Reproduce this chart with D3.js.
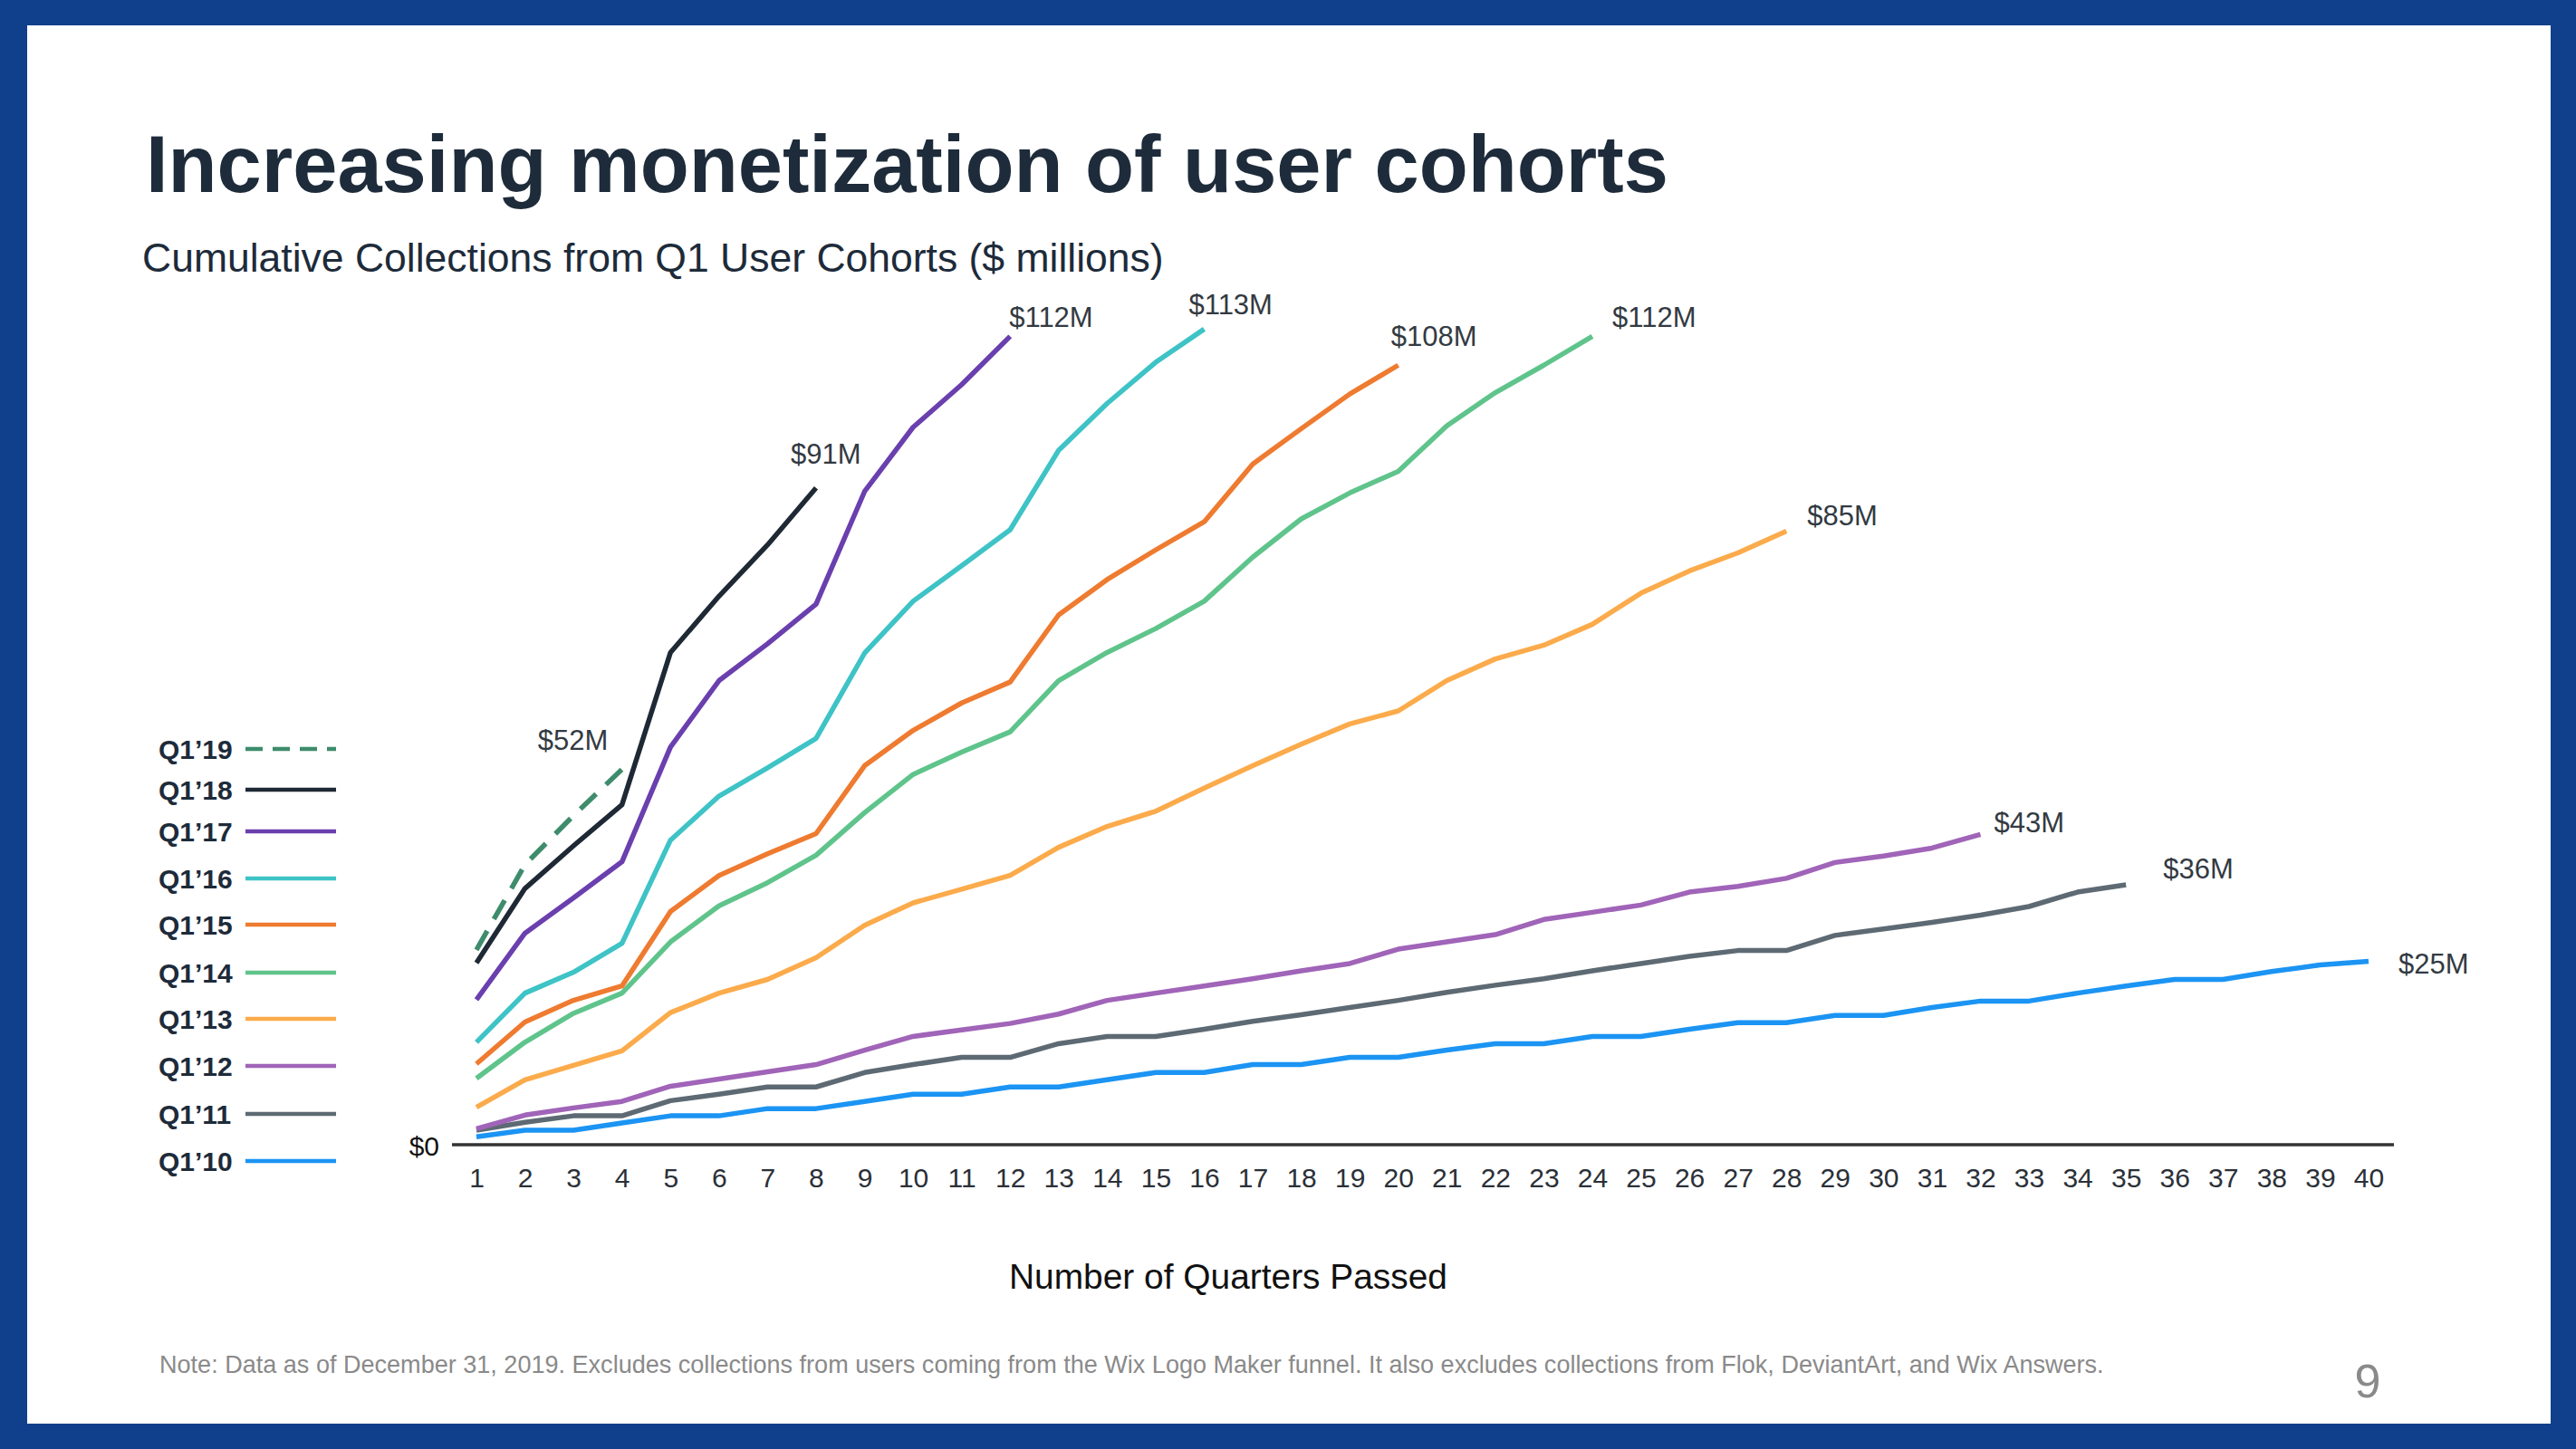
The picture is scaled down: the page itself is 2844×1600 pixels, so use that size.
<!DOCTYPE html>
<html>
<head>
<meta charset="utf-8">
<script src="https://cdn.jsdelivr.net/npm/d3@7"></script>
<style>
html, body { margin: 0; padding: 0; background: #10408c; }
svg { display: block; }
text { font-family: "Liberation Sans", Arial, Helvetica, sans-serif; }
</style>
</head>
<body>
<svg id="chart" width="2844" height="1600"></svg>
<script>
// ---------------- DATA ----------------
const quarterTicks = d3.range(1, 41);            // 1..40
const cohortNames = ["Q1’19", "Q1’18", "Q1’17", "Q1’16", "Q1’15", "Q1’14", "Q1’13", "Q1’12", "Q1’11", "Q1’10"];
const endLabels   = ["$52M", "$91M", "$112M", "$113M", "$108M", "$112M", "$85M", "$43M", "$36M", "$25M"];

const q1_19 = [27.0, 38.8, 45.6, 52.0];
const q1_18 = [25.2, 35.5, 41.4, 47.1, 68.2, 76.0, 83.1, 91.0];
const q1_17 = [20.1, 29.3, 34.2, 39.2, 55.1, 64.3, 69.4, 74.9, 90.5, 99.4, 105.3, 112.0];
const q1_16 = [14.2, 21.0, 23.9, 27.9, 42.2, 48.3, 52.2, 56.3, 68.1, 75.3, 80.2, 85.2, 96.2, 102.7, 108.4, 113.0];
const q1_15 = [11.2, 17.0, 20.0, 22.0, 32.3, 37.3, 40.3, 43.1, 52.5, 57.4, 61.2, 64.1, 73.4, 78.3, 82.4, 86.3, 94.3, 99.2, 104.0, 108.0];
const q1_14 = [9.2, 14.2, 18.2, 21.0, 28.1, 33.1, 36.3, 40.1, 46.0, 51.3, 54.4, 57.2, 64.3, 68.2, 71.5, 75.3, 81.4, 86.7, 90.3, 93.3, 99.6, 104.2, 108.0, 112.0];
const q1_13 = [5.2, 9.0, 11.0, 13.0, 18.3, 21.0, 22.9, 25.9, 30.4, 33.5, 35.4, 37.3, 41.2, 44.1, 46.2, 49.4, 52.5, 55.5, 58.3, 60.1, 64.3, 67.3, 69.2, 72.1, 76.4, 79.5, 82.0, 85.0];
const q1_12 = [2.2, 4.1, 5.1, 6.0, 8.1, 9.1, 10.1, 11.1, 13.1, 15.0, 15.9, 16.8, 18.1, 20.0, 21.0, 22.0, 23.0, 24.1, 25.1, 27.1, 28.1, 29.1, 31.2, 32.2, 33.2, 35.0, 35.8, 36.9, 39.1, 40.0, 41.1, 43.0];
const q1_11 = [2.0, 3.1, 4.0, 4.0, 6.1, 7.0, 8.0, 8.0, 10.0, 11.1, 12.1, 12.1, 14.0, 15.0, 15.0, 16.0, 17.1, 18.0, 19.0, 20.0, 21.1, 22.1, 23.0, 24.1, 25.1, 26.1, 26.9, 26.9, 29.0, 29.9, 30.8, 31.8, 33.0, 35.0, 36.0];
const q1_10 = [1.1, 2.0, 2.0, 3.0, 4.0, 4.0, 5.0, 5.0, 6.0, 7.0, 7.0, 8.0, 8.0, 9.0, 10.0, 10.0, 11.1, 11.1, 12.1, 12.1, 13.1, 14.0, 14.0, 15.0, 15.0, 16.0, 16.9, 16.9, 17.9, 17.9, 19.0, 19.9, 19.9, 21.0, 22.0, 22.9, 22.9, 24.0, 24.9, 25.4];

const seriesValues = [q1_19, q1_18, q1_17, q1_16, q1_15, q1_14, q1_13, q1_12, q1_11, q1_10];

// ---------------- STYLE / LAYOUT ----------------
const colors = ["#3e8c6c", "#1e2935", "#6a3fae", "#3ec3c6", "#ee7b30", "#5fc48b", "#fbab4b", "#a064b8", "#5e6a73", "#1b94f3"];
const dashed = [true, false, false, false, false, false, false, false, false, false];
// label offsets (px) from each line's end point: [dx to text start, dy to baseline]
const labelOffsets = [[-93, -22], [-28, -27], [-1, -10], [-17, -16], [-8, -21], [22, -10], [23, -7], [15, -2], [41, -7], [33, 13]];
const legendRowY = [827, 872, 918, 970, 1021, 1074, 1125, 1177, 1230, 1282];

const W = 2844, H = 1600;
const svg = d3.select("#chart");

// Frame
svg.append("rect").attr("x", 0).attr("y", 0).attr("width", W).attr("height", H).attr("fill", "#10408c");
svg.append("rect").attr("x", 30).attr("y", 28).attr("width", 2786).attr("height", 1544).attr("fill", "#ffffff");

function fitWidth(sel, target) {
  const fs = parseFloat(sel.attr("font-size"));
  const w = sel.node().getComputedTextLength();
  if (w > 0) sel.attr("font-size", (fs * target / w).toFixed(2));
  return sel;
}

// Titles
fitWidth(svg.append("text").attr("x", 161).attr("y", 212).attr("font-size", 88).attr("font-weight", 700)
  .attr("fill", "#1d2b3a").text("Increasing monetization of user cohorts"), 1681);
fitWidth(svg.append("text").attr("x", 157).attr("y", 300).attr("font-size", 42)
  .attr("fill", "#1d2b3a").text("Cumulative Collections from Q1 User Cohorts ($ millions)"), 1128);

// Scales
const x = d3.scaleLinear().domain([1, 40]).range([526, 2615]);
const y = d3.scaleLinear().domain([0, 113]).range([1264, 1264 - 113 * 7.97]);

// X axis
const xAxis = d3.axisBottom(x).tickValues(quarterTicks).tickSize(0).tickPadding(26).tickFormat(d3.format("d"));
const gx = svg.append("g").attr("transform", `translate(0,${y(0)})`).call(xAxis);
gx.select(".domain").remove();
gx.selectAll("text").attr("font-size", 30).attr("fill", "#2b3038")
  .style("font-family", "\"Liberation Sans\", Arial, sans-serif");
svg.append("line").attr("x1", x(1) - 27).attr("x2", x(40) + 28).attr("y1", y(0)).attr("y2", y(0))
  .attr("stroke", "#333333").attr("stroke-width", 3.5);
svg.append("text").attr("x", x(1) - 41).attr("y", y(0) + 12).attr("text-anchor", "end")
  .attr("font-size", 30).attr("fill", "#111111").text("$0");

fitWidth(svg.append("text").attr("x", 1356).attr("y", 1423).attr("text-anchor", "middle").attr("font-size", 40)
  .attr("fill", "#111111").text("Number of Quarters Passed"), 484);

// Lines
const line = d3.line().x((d, i) => x(i + 1)).y(d => y(d));
const order = d3.range(seriesValues.length).reverse();
order.forEach(k => {
  svg.append("path").datum(seriesValues[k])
    .attr("d", line)
    .attr("fill", "none")
    .attr("stroke", colors[k])
    .attr("stroke-width", 5.5)
    .attr("stroke-linejoin", "round")
    .attr("stroke-linecap", "butt")
    .attr("stroke-dasharray", dashed[k] ? "24,15" : null);
});

// End labels
seriesValues.forEach((vals, k) => {
  const n = vals.length;
  svg.append("text")
    .attr("x", x(n) + labelOffsets[k][0])
    .attr("y", y(vals[n - 1]) + labelOffsets[k][1])
    .attr("font-size", 31).attr("fill", "#333a42")
    .text(endLabels[k]);
});

// Legend
cohortNames.forEach((name, k) => {
  const cy = legendRowY[k];
  svg.append("text").attr("x", 175).attr("y", cy + 11).attr("font-size", 30).attr("font-weight", 700)
    .attr("fill", "#1d2b3a").text(name);
  svg.append("line").attr("x1", 271).attr("x2", 371).attr("y1", cy).attr("y2", cy)
    .attr("stroke", colors[k]).attr("stroke-width", 4.5)
    .attr("stroke-dasharray", dashed[k] ? "19,11" : null);
});

// Footnote + page number
fitWidth(svg.append("text").attr("x", 176).attr("y", 1516).attr("font-size", 24).attr("fill", "#8a8a8a")
  .text("Note: Data as of December 31, 2019. Excludes collections from users coming from the Wix Logo Maker funnel. It also excludes collections from Flok, DeviantArt, and Wix Answers."), 2147);
svg.append("text").attr("x", 2614).attr("y", 1543).attr("text-anchor", "middle").attr("font-size", 52)
  .attr("font-weight", 300).attr("fill", "#8a8a8a").text("9");
</script>
</body>
</html>
